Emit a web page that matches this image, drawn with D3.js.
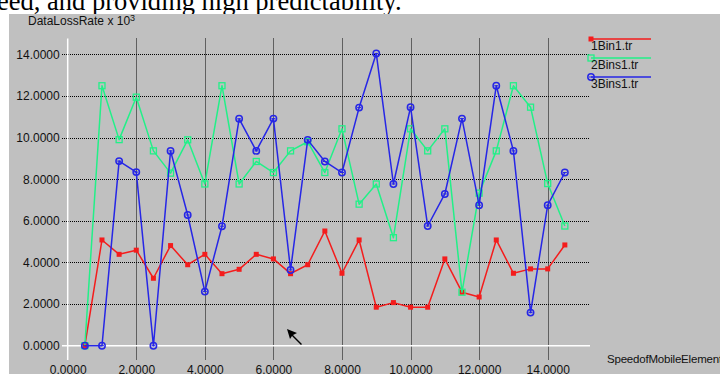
<!DOCTYPE html>
<html>
<head>
<meta charset="utf-8">
<script src="https://cdn.jsdelivr.net/npm/d3@7"></script>
<style>
  body { margin: 0; background: #fff; overflow: hidden; }
  text { font-family: "Liberation Sans", Arial, sans-serif; font-size: 12px; fill: #111; }
</style>
</head>
<body>
<div id="graph"></div>
<script>
// vitesse (abscisse)
var vitesses = [0.5, 1.0, 1.5, 2.0, 2.5, 3.0, 3.5, 4.0, 4.5, 5.0, 5.5, 6.0, 6.5, 7.0, 7.5,
                8.0, 8.5, 9.0, 9.5, 10.0, 10.5, 11.0, 11.5, 12.0, 12.5, 13.0, 13.5, 14.0, 14.5];

var bin1 = [0, 5.08, 4.39, 4.59, 3.24, 4.81, 3.89, 4.39, 3.46, 3.67, 4.39, 4.17, 3.46, 3.89, 5.51,
            3.48, 5.08, 1.85, 2.07, 1.85, 1.85, 4.17, 2.57, 2.34, 5.08, 3.48, 3.69, 3.69, 4.84];

var bins2 = [0, 12.49, 9.90, 11.94, 9.36, 8.29, 9.89, 7.77, 12.49, 7.77, 8.85, 8.32, 9.36, 9.80, 8.32,
             10.42, 6.80, 7.77, 5.19, 10.42, 9.36, 10.42, 2.57, 7.33, 9.36, 12.49, 11.46, 7.79, 5.75];

var bins3 = [0, 0, 8.87, 8.34, 0, 9.36, 6.28, 2.60, 5.74, 10.90, 9.36, 10.91, 3.64, 9.89, 8.85,
             8.32, 11.44, 14.04, 7.77, 11.46, 5.75, 7.29, 10.91, 6.75, 12.49, 9.36, 1.59, 6.75, 8.32];

var ticksX = [0, 2, 4, 6, 8, 10, 12, 14];
var ticksY = [0, 2, 4, 6, 8, 10, 12, 14];

var series = [
    {nom: "1Bin1.tr", valeurs: bin1, couleur: "#f41c1c", marque: "carre_plein"},
    {nom: "2Bins1.tr", valeurs: bins2, couleur: "#22f088", marque: "carre"},
    {nom: "3Bins1.tr", valeurs: bins3, couleur: "#2626e6", marque: "rond"}
];

var largeur = 720, hauteur = 374;

var svg = d3.select("#graph")
    .append("svg")
        .attr("width", largeur)
        .attr("height", hauteur);

// texte du document au-dessus de la capture
svg.append("text")
    .attr("x", -3)
    .attr("y", 10)
    .style("font-family", "'Liberation Serif', 'Times New Roman', serif")
    .style("font-size", "26.5px")
    .style("fill", "#000")
    .text("eed, and providing high predictability.");

// fond gris
svg.append("rect")
    .attr("x", 9)
    .attr("y", 14)
    .attr("width", largeur - 9)
    .attr("height", hauteur - 14)
    .attr("fill", "#c0c0c0");

var x = d3.scaleLinear()
        .domain([0, 14])
        .range([67.7, 547.7]),
    y = d3.scaleLinear()
        .domain([0, 14])
        .range([345.7, 54.3]),
    xmax = 590,
    yhaut = 38.5,
    ybas = 360;

// grille pointillée
svg.selectAll(".grilleY")
    .data(ticksY.filter(function (d) { return d > 0; }))
    .enter()
    .append("line")
    .attr("x1", 62)
    .attr("x2", xmax)
    .attr("y1", function (d) { return Math.round(y(d)) + 0.5; })
    .attr("y2", function (d) { return Math.round(y(d)) + 0.5; })
    .style("stroke", "#000")
    .style("stroke-width", 1)
    .style("stroke-dasharray", "1 1");

svg.selectAll(".grilleX")
    .data(ticksX.filter(function (d) { return d > 0; }))
    .enter()
    .append("line")
    .attr("x1", function (d) { return Math.round(x(d)) + 0.5; })
    .attr("x2", function (d) { return Math.round(x(d)) + 0.5; })
    .attr("y1", yhaut)
    .attr("y2", ybas)
    .style("stroke", "#000")
    .style("stroke-width", 1)
    .style("stroke-dasharray", "1 1");

// axes blancs
svg.append("line")
    .attr("x1", 62).attr("x2", xmax)
    .attr("y1", y(0)).attr("y2", y(0))
    .style("stroke", "#fff").style("stroke-width", 1.5);
svg.append("line")
    .attr("x1", x(0)).attr("x2", x(0))
    .attr("y1", yhaut).attr("y2", ybas)
    .style("stroke", "#fff").style("stroke-width", 1.5);

// libellés des axes
var axeY = svg.append("g")
    .attr("transform", "translate(" + x(0) + ",0)")
    .call(d3.axisLeft(y).tickValues(ticksY).tickFormat(d3.format(".4f")).tickSize(0).tickPadding(8));
axeY.select(".domain").remove();
axeY.selectAll("text").style("font-family", null).style("font-size", null).attr("fill", null);

var axeX = svg.append("g")
    .attr("transform", "translate(0," + y(0) + ")")
    .call(d3.axisBottom(x).tickValues(ticksX).tickFormat(d3.format(".4f")).tickSize(0).tickPadding(20));
axeX.select(".domain").remove();
axeX.selectAll("text").style("font-family", null).style("font-size", null).attr("fill", null);

var titreY = svg.append("text")
    .attr("x", 28)
    .attr("y", 25);
titreY.append("tspan").text("DataLossRate x 10");
titreY.append("tspan").attr("dy", -4).style("font-size", "9px").text("3");

svg.append("text")
    .attr("x", 607)
    .attr("y", 363)
    .style("font-size", "11.5px")
    .style("letter-spacing", "-0.2px")
    .text("SpeedofMobileElement");

// courbes
var ligne = d3.line()
    .x(function (d, i) { return x(vitesses[i]); })
    .y(function (d) { return y(d); });

function marque(g, s, px, py) {
    if (s.marque === "carre_plein") {
        g.append("rect")
            .attr("x", px - 2.5).attr("y", py - 2.5)
            .attr("width", 5).attr("height", 5)
            .attr("fill", s.couleur);
    } else if (s.marque === "carre") {
        g.append("rect")
            .attr("x", px - 3).attr("y", py - 3)
            .attr("width", 6).attr("height", 6)
            .attr("fill", "none")
            .attr("stroke", s.couleur)
            .attr("stroke-width", 1.3);
    } else {
        g.append("circle")
            .attr("cx", px).attr("cy", py)
            .attr("r", 3.2)
            .attr("fill", "none")
            .attr("stroke", s.couleur)
            .attr("stroke-width", 1.5);
        g.append("line")
            .attr("x1", px - 2).attr("x2", px + 2)
            .attr("y1", py).attr("y2", py)
            .attr("stroke", s.couleur)
            .attr("stroke-width", 1);
    }
}

series.forEach(function (s) {
    svg.append("path")
        .datum(s.valeurs)
        .attr("fill", "none")
        .attr("stroke", s.couleur)
        .attr("stroke-width", 1.5)
        .attr("stroke-linejoin", "round")
        .attr("d", ligne);
    var g = svg.append("g");
    s.valeurs.forEach(function (v, i) {
        marque(g, s, x(vitesses[i]), y(v));
    });
});

// légende
series.forEach(function (s, i) {
    var ly = 39 + i * 19;
    svg.append("line")
        .attr("x1", 591).attr("x2", 651)
        .attr("y1", ly).attr("y2", ly)
        .attr("stroke", s.couleur)
        .attr("stroke-width", 1.5);
    marque(svg.append("g"), s, 591, ly);
    svg.append("text")
        .attr("x", 591)
        .attr("y", ly + 10.5)
        .text(s.nom);
});

// curseur de la souris
svg.append("path")
    .attr("d", "M287,329 L297,333 L293,335 L302,344 L301,345 L292,336 L290,339 Z")
    .attr("fill", "#000");
</script>
</body>
</html>
